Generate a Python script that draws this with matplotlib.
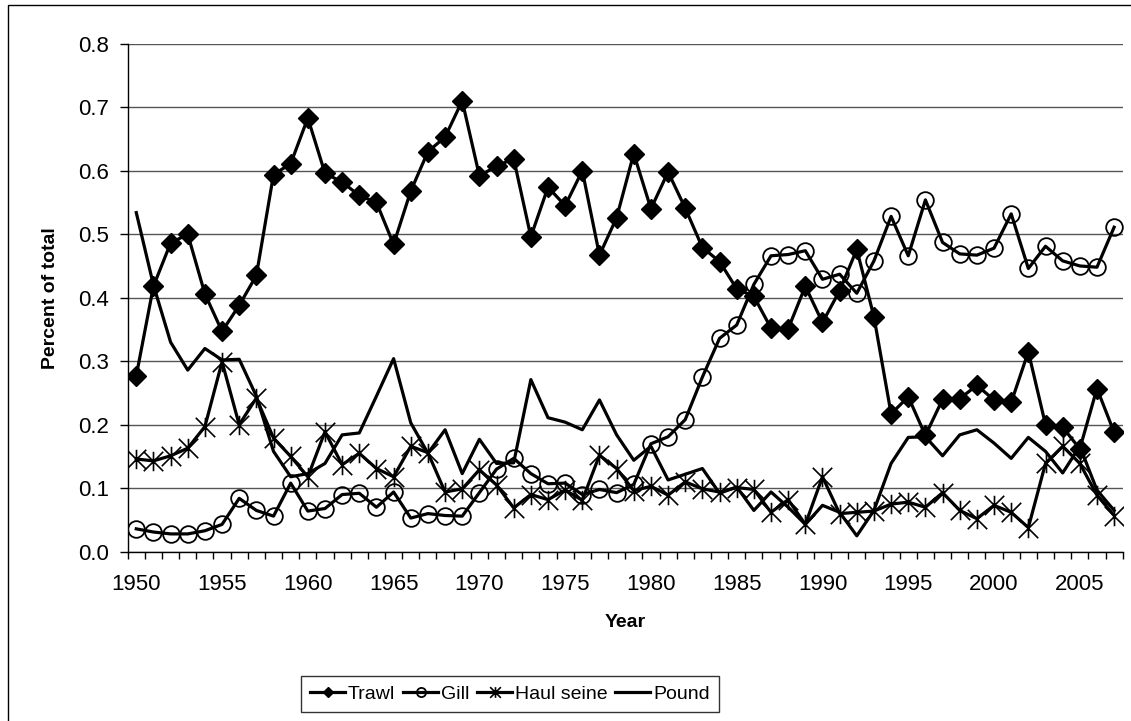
import matplotlib

matplotlib.use("Agg")
import matplotlib.pyplot as plt
from matplotlib.patches import Rectangle
from matplotlib.path import Path

plt.rcParams["font.family"] = ["Liberation Sans", "DejaVu Sans"]

YEARS = list(range(1950, 2008))

TRAWL = [
    0.277, 0.418, 0.486, 0.500, 0.406, 0.347, 0.388, 0.435, 0.594, 0.611,
    0.683, 0.596, 0.582, 0.561, 0.550, 0.484, 0.568, 0.630, 0.653, 0.710,
    0.592, 0.607, 0.619, 0.496, 0.574, 0.545, 0.600, 0.467, 0.526, 0.627,
    0.540, 0.598, 0.541, 0.479, 0.457, 0.414, 0.402, 0.352, 0.351, 0.418,
    0.361, 0.411, 0.476, 0.370, 0.217, 0.244, 0.183, 0.240, 0.241, 0.262,
    0.239, 0.235, 0.315, 0.200, 0.196, 0.162, 0.257, 0.188,
]
GILL = [
    0.036, 0.031, 0.028, 0.028, 0.033, 0.043, 0.084, 0.065, 0.056, 0.108,
    0.064, 0.068, 0.090, 0.092, 0.070, 0.094, 0.053, 0.060, 0.057, 0.056,
    0.093, 0.130, 0.147, 0.123, 0.107, 0.108, 0.090, 0.098, 0.093, 0.106,
    0.170, 0.181, 0.208, 0.275, 0.336, 0.357, 0.421, 0.466, 0.468, 0.474,
    0.429, 0.437, 0.407, 0.458, 0.528, 0.466, 0.554, 0.487, 0.469, 0.467,
    0.478, 0.532, 0.446, 0.481, 0.458, 0.450, 0.448, 0.511,
]
HAUL_SEINE = [
    0.146, 0.143, 0.151, 0.163, 0.197, 0.299, 0.200, 0.242, 0.179, 0.150,
    0.118, 0.189, 0.137, 0.155, 0.131, 0.118, 0.166, 0.156, 0.094, 0.099,
    0.129, 0.105, 0.069, 0.090, 0.082, 0.097, 0.081, 0.152, 0.131, 0.096,
    0.103, 0.089, 0.110, 0.099, 0.094, 0.101, 0.098, 0.062, 0.082, 0.043,
    0.118, 0.060, 0.062, 0.064, 0.075, 0.078, 0.070, 0.093, 0.065, 0.052,
    0.073, 0.062, 0.038, 0.139, 0.166, 0.139, 0.089, 0.057,
]
POUND = [
    0.534, 0.420, 0.330, 0.286, 0.320, 0.302, 0.303, 0.245, 0.158, 0.118,
    0.123, 0.139, 0.184, 0.187, 0.245, 0.304, 0.203, 0.155, 0.192, 0.123,
    0.177, 0.139, 0.140, 0.271, 0.211, 0.204, 0.192, 0.239, 0.184, 0.144,
    0.166, 0.113, 0.122, 0.131, 0.092, 0.102, 0.065, 0.094, 0.070, 0.043,
    0.073, 0.062, 0.025, 0.065, 0.139, 0.180, 0.181, 0.151, 0.184, 0.192,
    0.171, 0.147, 0.180, 0.158, 0.124, 0.166, 0.097, 0.065,
]

LABEL_YEARS = list(range(1950, 2006, 5))
Y_TICKS = [0.0, 0.1, 0.2, 0.3, 0.4, 0.5, 0.6, 0.7, 0.8]

# Excel style "star" marker: an x with a vertical bar
STAR = Path(
    [(-1, -1), (1, 1), (-1, 1), (1, -1), (0, -1), (0, 1)],
    [Path.MOVETO, Path.LINETO, Path.MOVETO, Path.LINETO, Path.MOVETO, Path.LINETO],
)

fig = plt.figure(figsize=(11.31, 7.21), dpi=100)
ax = fig.add_axes([127.7 / 1131, 1 - 551.7 / 721, 995 / 1131, 508 / 721])

line_kw = dict(color="black", linewidth=2.3)
ax.plot(YEARS, POUND, label="Pound", **line_kw, zorder=3)
ax.plot(YEARS, HAUL_SEINE, marker=STAR, markersize=14, markeredgewidth=1.2,
        markeredgecolor="black", label="Haul seine", **line_kw, zorder=4)
ax.plot(YEARS, GILL, marker="o", markersize=12, markerfacecolor="none",
        markeredgewidth=1.3, markeredgecolor="black", label="Gill",
        **line_kw, zorder=5)
ax.plot(YEARS, TRAWL, marker="D", markersize=10, markerfacecolor="black",
        markeredgecolor="black", label="Trawl", **line_kw, zorder=6)

ax.set_xlim(1949.5, 2007.5)
ax.set_ylim(0, 0.8)
ax.set_yticks(Y_TICKS)
ax.set_yticklabels([f"{v:.1f}" for v in Y_TICKS])
ax.set_xticks(LABEL_YEARS)
ax.set_xticklabels([str(y) for y in LABEL_YEARS])
ax.set_xticks([y - 0.5 for y in YEARS] + [2007.5], minor=True)
ax.tick_params(axis="x", which="major", length=0, pad=16, labelsize=16)
ax.tick_params(axis="x", which="minor", length=5, width=1, direction="out")
ax.tick_params(axis="y", length=5.5, width=1, pad=8, labelsize=16)

ax.grid(axis="y", color="#555555", linewidth=1)
ax.set_axisbelow(True)
for side in ("top", "right"):
    ax.spines[side].set_visible(False)
for side in ("left", "bottom"):
    ax.spines[side].set_linewidth(1)
    ax.spines[side].set_color("black")

ax.set_ylabel("Percent of total", fontsize=14, fontweight="bold", labelpad=14)
ax.set_xlabel("Year", fontsize=14, fontweight="bold", labelpad=14)

handles, labels = ax.get_legend_handles_labels()
order = [3, 2, 1, 0]
leg = fig.legend(
    [handles[i] for i in order],
    [labels[i] for i in order],
    loc="center",
    bbox_to_anchor=(510 / 1131, 1 - 694 / 721),
    ncol=4,
    fontsize=14,
    frameon=True,
    fancybox=False,
    edgecolor="black",
    handlelength=1.8,
    handletextpad=0.15,
    columnspacing=0.4,
    borderpad=0.45,
    borderaxespad=0.0,
    markerscale=0.55,
)
leg.get_frame().set_linewidth(1)

fig.patches.append(
    Rectangle((8 / 1131, -0.1), 2, 1.1 - 5 / 721, transform=fig.transFigure,
              fill=False, edgecolor="black", linewidth=1)
)

fig.savefig("out.png", dpi=100)
